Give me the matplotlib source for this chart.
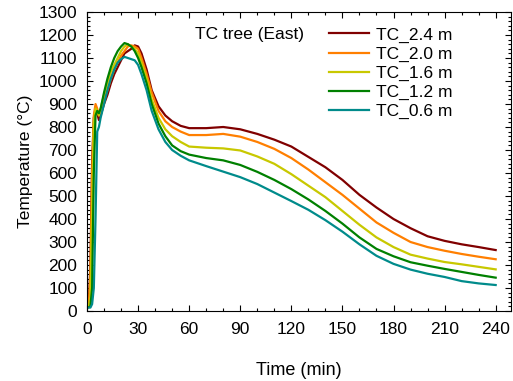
import numpy as np
import matplotlib
matplotlib.use('Agg')
import matplotlib.pyplot as plt
from matplotlib.ticker import MultipleLocator

plt.rcParams['font.family'] = ['Liberation Sans', 'DejaVu Sans']

# time (min)
time = [0, 1, 2, 3, 4, 5, 6, 7, 8, 10, 12, 14, 16, 18, 20, 22, 24, 26, 28, 30,
        32, 35, 38, 42, 46, 50, 55, 60, 70, 80, 90, 100, 110, 120, 130, 140,
        150, 160, 170, 180, 190, 200, 210, 220, 230, 240]

tc_24 = [20, 25, 200, 650, 840, 880, 860, 830, 850, 900, 940, 990, 1030, 1060,
         1090, 1120, 1130, 1140, 1155, 1150, 1120, 1050, 960, 890, 850, 825,
         805, 795, 795, 800, 790, 770, 745, 715, 670, 625, 570, 505, 450, 400,
         360, 325, 305, 290, 278, 265]
tc_20 = [20, 25, 150, 600, 850, 900, 880, 850, 870, 920, 960, 1010, 1050, 1080,
         1110, 1130, 1150, 1155, 1150, 1140, 1100, 1030, 950, 870, 825, 800,
         780, 765, 765, 770, 758, 735, 705, 665, 615, 560, 505, 445, 385, 340,
         300, 278, 262, 248, 236, 225]
tc_16 = [20, 22, 60, 450, 820, 880, 870, 850, 880, 940, 990, 1040, 1070, 1100,
         1130, 1150, 1160, 1150, 1140, 1120, 1080, 1010, 920, 840, 790, 760,
         735, 715, 710, 707, 698, 672, 640, 595, 545, 495, 435, 375, 320, 278,
         245, 228, 213, 203, 192, 181]
tc_12 = [15, 16, 20, 100, 600, 850, 870, 860, 880, 950, 1010, 1060, 1100, 1130,
         1150, 1165, 1160, 1150, 1130, 1100, 1060, 990, 900, 815, 760, 720,
         695, 680, 665, 655, 635, 605, 570, 530, 485, 435, 380, 320, 270, 238,
         212, 197, 183, 170, 157, 145]
tc_06 = [15, 15, 15, 30, 100, 400, 780, 800, 840, 900, 960, 1010, 1050, 1080,
         1095, 1105, 1100, 1095, 1090, 1070, 1030, 960, 870, 790, 735, 700,
         675, 655, 630, 606, 582, 552, 515, 478, 440, 395, 345, 290, 240, 205,
         180, 162, 148, 130, 120, 113]

labels = ['TC_2.4 m', 'TC_2.0 m', 'TC_1.6 m', 'TC_1.2 m', 'TC_0.6 m']
colors = ['#800000', '#FF7F00', '#C8C800', '#008000', '#008B8B']

fig = plt.figure(figsize=(5.13, 3.81), dpi=100)
ax = fig.add_axes([0.1696, 0.1837, 0.8265, 0.7848])

for y, lab, c in zip([tc_24, tc_20, tc_16, tc_12, tc_06], labels, colors):
    ax.plot(time, y, color=c, lw=1.6, label=lab)

ax.set_xlim(0, 249)
ax.set_ylim(0, 1300)
ax.xaxis.set_major_locator(MultipleLocator(30))
ax.xaxis.set_minor_locator(MultipleLocator(10))
ax.yaxis.set_major_locator(MultipleLocator(100))
ax.yaxis.set_minor_locator(MultipleLocator(20))
ax.tick_params(which='both', direction='in', top=True, right=True,
               labelsize=12.5, width=0.8)
ax.tick_params(which='major', length=4)
ax.tick_params(which='minor', length=2)
ax.tick_params(axis='x', pad=8)
ax.tick_params(axis='y', pad=7)

ax.set_xlabel('Time (min)', fontsize=13, labelpad=18)
ax.set_ylabel('Temperature (°C)', fontsize=12.5, labelpad=4)

ax.text(0.255, 0.926, 'TC tree (East)', transform=ax.transAxes,
        fontsize=12.5, va='center', ha='left')
ax.legend(loc='upper left', bbox_to_anchor=(0.555, 0.972), frameon=False,
          fontsize=12.5, handlelength=2.3, handletextpad=0.4,
          labelspacing=0.22, borderaxespad=0)

plt.savefig('out.png', dpi=100)
